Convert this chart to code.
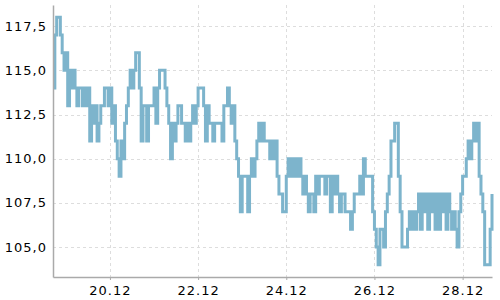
<!DOCTYPE html>
<html>
<head>
<meta charset="utf-8">
<script src="https://cdn.jsdelivr.net/npm/d3@7"></script>
<style>
  html, body { margin: 0; padding: 0; background: #fff; }
  .axis text { font-family: 'DejaVu Sans', sans-serif; font-size: 13px; fill: #000; letter-spacing: 1px; }
</style>
</head>
<body>
<div id="chart"></div>
<script>
const width = 500
const height = 300
const margin = { top: 5, right: 8, bottom: 23, left: 53 }

// hourly series, start 18.12 17:00 — stored as change points (hour offset, value)
const startTime = new Date(2023, 11, 18, 17)
const lastHour = 239
const changeHours = [
  0, 1, 2, 4, 5, 6, 7, 8, 9, 10, 11, 12, 13, 14, 16, 17, 18, 19, 20, 21,
  22, 23, 24, 25, 26, 28, 30, 31, 32, 33, 34, 35, 36, 37, 38, 39, 40, 41, 42, 43,
  44, 45, 47, 48, 49, 51, 52, 55, 56, 57, 58, 61, 62, 63, 64, 65, 66, 67, 68, 70,
  72, 73, 74, 75, 76, 77, 78, 79, 82, 83, 84, 85, 87, 88, 92, 93, 95, 96, 97, 98,
  99, 100, 101, 102, 103, 106, 107, 108, 109, 110, 111, 112, 113, 114, 115, 118, 119, 120, 121, 122,
  123, 125, 127, 128, 129, 130, 131, 132, 133, 134, 135, 136, 137, 138, 139, 140, 142, 143, 144, 145,
  148, 149, 151, 152, 153, 154, 155, 156, 157, 159, 162, 163, 164, 167, 168, 169, 170, 174, 175, 176,
  177, 178, 180, 181, 182, 183, 184, 186, 188, 189, 190, 193, 194, 195, 196, 197, 198, 199, 200, 201,
  202, 203, 204, 205, 206, 207, 208, 209, 210, 211, 212, 213, 214, 215, 216, 217, 218, 219, 220, 221,
  222, 223, 225, 226, 227, 228, 229, 230, 231, 232, 233, 234, 235, 238, 239
]
const prices = [
  114, 117, 118, 117, 116, 115, 116, 113, 115, 114, 115, 114, 113, 114, 113, 114, 113, 114, 111, 113,
  112, 113, 111, 112, 113, 114, 113, 114, 112, 113, 111, 110, 109, 111, 110, 112, 113, 114, 115, 114,
  115, 116, 114, 111, 113, 111, 113, 114, 112, 114, 115, 114, 113, 112, 110, 112, 111, 112, 113, 112,
  111, 112, 111, 112, 113, 112, 113, 114, 113, 111, 113, 112, 111, 112, 111, 113, 114, 113, 112, 113,
  111, 110, 109, 107, 109, 107, 109, 110, 109, 110, 111, 112, 111, 112, 111, 110, 111, 110, 111, 109,
  108, 107, 109, 110, 109, 110, 109, 110, 109, 110, 109, 108, 109, 108, 107, 108, 107, 109, 108, 109,
  108, 109, 107, 109, 108, 109, 108, 107, 108, 107, 106, 107, 108, 109, 108, 110, 109, 107, 106, 105,
  104, 106, 105, 107, 108, 109, 111, 112, 109, 107, 105, 106, 107, 106, 107, 106, 107, 108, 106, 108,
  107, 108, 106, 108, 107, 108, 106, 108, 106, 108, 107, 108, 106, 108, 107, 106, 107, 106, 105, 107,
  108, 109, 110, 111, 110, 111, 112, 111, 112, 109, 108, 107, 104, 106, 108
]

const tickDays = [20, 22, 24, 26, 28]
const yTicks = [105, 107.5, 110, 112.5, 115, 117.5]
const yDomain = [103.3, 118.7]

const hourToDate = h => d3.timeHour.offset(startTime, h)
const points = changeHours.map((h, i) => [h, prices[i]])

const svg = d3
  .select('#chart')
  .append('svg')
  .attr('width', width)
  .attr('height', height)

const x = d3
  .scaleTime()
  .domain([startTime, hourToDate(lastHour)])
  .range([margin.left, width - margin.right])

const y = d3
  .scaleLinear()
  .domain(yDomain)
  .range([height - margin.bottom, margin.top])

const tickDates = tickDays.map(d => new Date(2023, 11, d))

// grid
const grid = svg.append('g').attr('stroke', '#ddd').attr('stroke-dasharray', '3,3')
grid
  .selectAll('.hgrid')
  .data(yTicks)
  .enter()
  .append('line')
  .attr('x1', margin.left)
  .attr('x2', width - margin.right)
  .attr('y1', d => Math.round(y(d)) + 0.5)
  .attr('y2', d => Math.round(y(d)) + 0.5)
grid
  .selectAll('.vgrid')
  .data(tickDates)
  .enter()
  .append('line')
  .attr('x1', d => Math.round(x(d)) + 0.5)
  .attr('x2', d => Math.round(x(d)) + 0.5)
  .attr('y1', margin.top)
  .attr('y2', height - margin.bottom)

// line
const line = d3
  .line()
  .curve(d3.curveStepAfter)
  .x(d => x(hourToDate(d[0])))
  .y(d => y(d[1]))

svg
  .append('path')
  .datum(points)
  .attr('fill', 'none')
  .attr('stroke', '#7db4cc')
  .attr('stroke-width', 3)
  .attr('d', line)

// axes
const fmt = d3.format('.1f')
const yAxis = svg
  .append('g')
  .attr('class', 'axis')
  .attr('transform', 'translate(' + margin.left + ',0)')
  .call(
    d3
      .axisLeft(y)
      .tickValues(yTicks)
      .tickSize(0)
      .tickPadding(6)
      .tickFormat(d => fmt(d).replace('.', ','))
  )
yAxis.select('.domain').attr('stroke', '#aaa').attr('stroke-width', 1.5)

const xAxis = svg
  .append('g')
  .attr('class', 'axis')
  .attr('transform', 'translate(0,' + (height - margin.bottom) + ')')
  .call(
    d3
      .axisBottom(x)
      .tickValues(tickDates)
      .tickSize(3)
      .tickSizeOuter(0)
      .tickPadding(6)
      .tickFormat(d3.timeFormat('%d.%m'))
  )
xAxis.select('.domain').attr('stroke', '#aaa').attr('stroke-width', 1.5)
xAxis.selectAll('.tick line').attr('stroke', '#aaa')
</script>
</body>
</html>
